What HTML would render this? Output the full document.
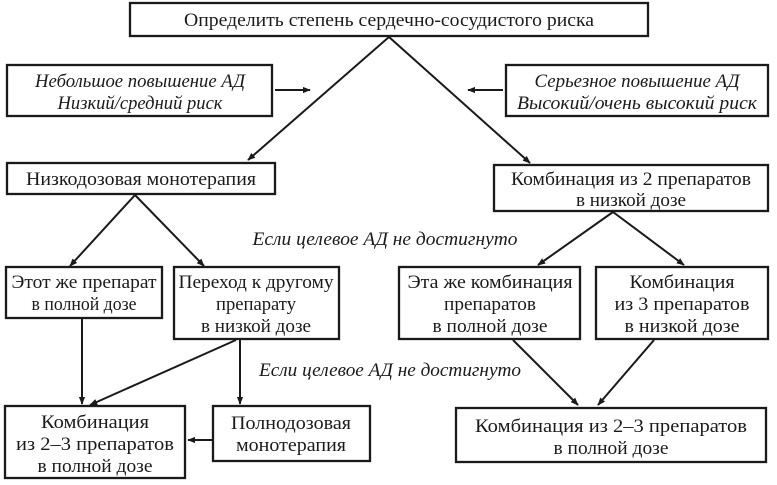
<!DOCTYPE html>
<html><head><meta charset="utf-8"><style>
html,body{margin:0;padding:0;background:#fff}
svg{display:block}
text{font-family:"Liberation Serif","DejaVu Serif",serif;font-size:18.5px;fill:#1a1a1a}
.i{font-style:italic}
rect{fill:#fff;stroke:#1a1a1a;stroke-width:2.3}
line{stroke:#1a1a1a;stroke-width:2}
</style></head><body>
<svg width="777" height="485" viewBox="0 0 777 485">
<defs><marker id="a" viewBox="0 0 10 10" refX="9" refY="5" markerWidth="8" markerHeight="8" orient="auto" markerUnits="userSpaceOnUse"><path d="M0,1 L10,5 L0,9 Z" fill="#1a1a1a"/></marker></defs>
<rect x="130" y="3" width="518" height="33"/>
<text x="389" y="26" text-anchor="middle" textLength="410" lengthAdjust="spacingAndGlyphs">Определить степень сердечно-сосудистого риска</text>
<rect x="7" y="65" width="265" height="51"/>
<text class="i" x="140" y="87" text-anchor="middle" textLength="210" lengthAdjust="spacingAndGlyphs">Небольшое повышение АД</text>
<text class="i" x="140" y="109" text-anchor="middle" textLength="165" lengthAdjust="spacingAndGlyphs">Низкий/средний риск</text>
<rect x="506" y="65" width="262" height="51"/>
<text class="i" x="637" y="87" text-anchor="middle" textLength="205" lengthAdjust="spacingAndGlyphs">Серьезное повышение АД</text>
<text class="i" x="637" y="109" text-anchor="middle" textLength="240" lengthAdjust="spacingAndGlyphs">Высокий/очень высокий риск</text>
<line x1="275" y1="90" x2="310" y2="90" marker-end="url(#a)"/>
<line x1="503" y1="90" x2="468" y2="90" marker-end="url(#a)"/>
<line x1="389" y1="37" x2="248" y2="160" marker-end="url(#a)"/>
<line x1="389" y1="37" x2="530" y2="163" marker-end="url(#a)"/>
<rect x="7" y="163" width="268" height="31"/>
<text x="141" y="185" text-anchor="middle" textLength="230" lengthAdjust="spacingAndGlyphs">Низкодозовая монотерапия</text>
<rect x="494" y="165" width="274" height="46"/>
<text x="631" y="185" text-anchor="middle" textLength="240" lengthAdjust="spacingAndGlyphs">Комбинация из 2 препаратов</text>
<text x="631" y="206" text-anchor="middle" textLength="110" lengthAdjust="spacingAndGlyphs">в низкой дозе</text>
<line x1="135" y1="195" x2="70" y2="266" marker-end="url(#a)"/>
<line x1="135" y1="195" x2="204" y2="266" marker-end="url(#a)"/>
<line x1="613" y1="212" x2="538" y2="265" marker-end="url(#a)"/>
<line x1="613" y1="212" x2="684" y2="265" marker-end="url(#a)"/>
<text class="i" x="385" y="245" text-anchor="middle" textLength="265" lengthAdjust="spacingAndGlyphs">Если целевое АД не достигнуто</text>
<rect x="6" y="267" width="156" height="51"/>
<text x="84" y="288" text-anchor="middle" textLength="145" lengthAdjust="spacingAndGlyphs">Этот же препарат</text>
<text x="84" y="310" text-anchor="middle" textLength="105" lengthAdjust="spacingAndGlyphs">в полной дозе</text>
<rect x="174" y="267" width="165" height="72"/>
<text x="256" y="288" text-anchor="middle" textLength="155" lengthAdjust="spacingAndGlyphs">Переход к другому</text>
<text x="256" y="310" text-anchor="middle" textLength="80" lengthAdjust="spacingAndGlyphs">препарату</text>
<text x="256" y="332" text-anchor="middle" textLength="110" lengthAdjust="spacingAndGlyphs">в низкой дозе</text>
<rect x="399" y="267" width="181" height="72"/>
<text x="490" y="288" text-anchor="middle" textLength="165" lengthAdjust="spacingAndGlyphs">Эта же комбинация</text>
<text x="490" y="310" text-anchor="middle" textLength="92" lengthAdjust="spacingAndGlyphs">препаратов</text>
<text x="490" y="332" text-anchor="middle" textLength="115" lengthAdjust="spacingAndGlyphs">в полной дозе</text>
<rect x="596" y="267" width="172" height="72"/>
<text x="682" y="288" text-anchor="middle" textLength="105" lengthAdjust="spacingAndGlyphs">Комбинация</text>
<text x="682" y="310" text-anchor="middle" textLength="135" lengthAdjust="spacingAndGlyphs">из 3 препаратов</text>
<text x="682" y="332" text-anchor="middle" textLength="115" lengthAdjust="spacingAndGlyphs">в низкой дозе</text>
<line x1="82" y1="318" x2="82" y2="404" marker-end="url(#a)"/>
<line x1="236" y1="340" x2="90" y2="405" marker-end="url(#a)"/>
<line x1="240" y1="340" x2="240" y2="404" marker-end="url(#a)"/>
<text class="i" x="390" y="376" text-anchor="middle" textLength="262" lengthAdjust="spacingAndGlyphs">Если целевое АД не достигнуто</text>
<line x1="513" y1="340" x2="578" y2="405" marker-end="url(#a)"/>
<line x1="654" y1="340" x2="598" y2="405" marker-end="url(#a)"/>
<rect x="5" y="406" width="180" height="72"/>
<text x="95" y="428" text-anchor="middle" textLength="108" lengthAdjust="spacingAndGlyphs">Комбинация</text>
<text x="95" y="450" text-anchor="middle" textLength="158" lengthAdjust="spacingAndGlyphs">из 2–3 препаратов</text>
<text x="95" y="472" text-anchor="middle" textLength="115" lengthAdjust="spacingAndGlyphs">в полной дозе</text>
<rect x="213" y="406" width="157" height="55"/>
<text x="291" y="429" text-anchor="middle" textLength="120" lengthAdjust="spacingAndGlyphs">Полнодозовая</text>
<text x="291" y="451" text-anchor="middle" textLength="110" lengthAdjust="spacingAndGlyphs">монотерапия</text>
<line x1="213" y1="440" x2="188" y2="440" marker-end="url(#a)"/>
<rect x="456" y="408" width="310" height="54"/>
<text x="611" y="432" text-anchor="middle" textLength="272" lengthAdjust="spacingAndGlyphs">Комбинация из 2–3 препаратов</text>
<text x="611" y="454" text-anchor="middle" textLength="115" lengthAdjust="spacingAndGlyphs">в полной дозе</text>
</svg>
</body></html>
